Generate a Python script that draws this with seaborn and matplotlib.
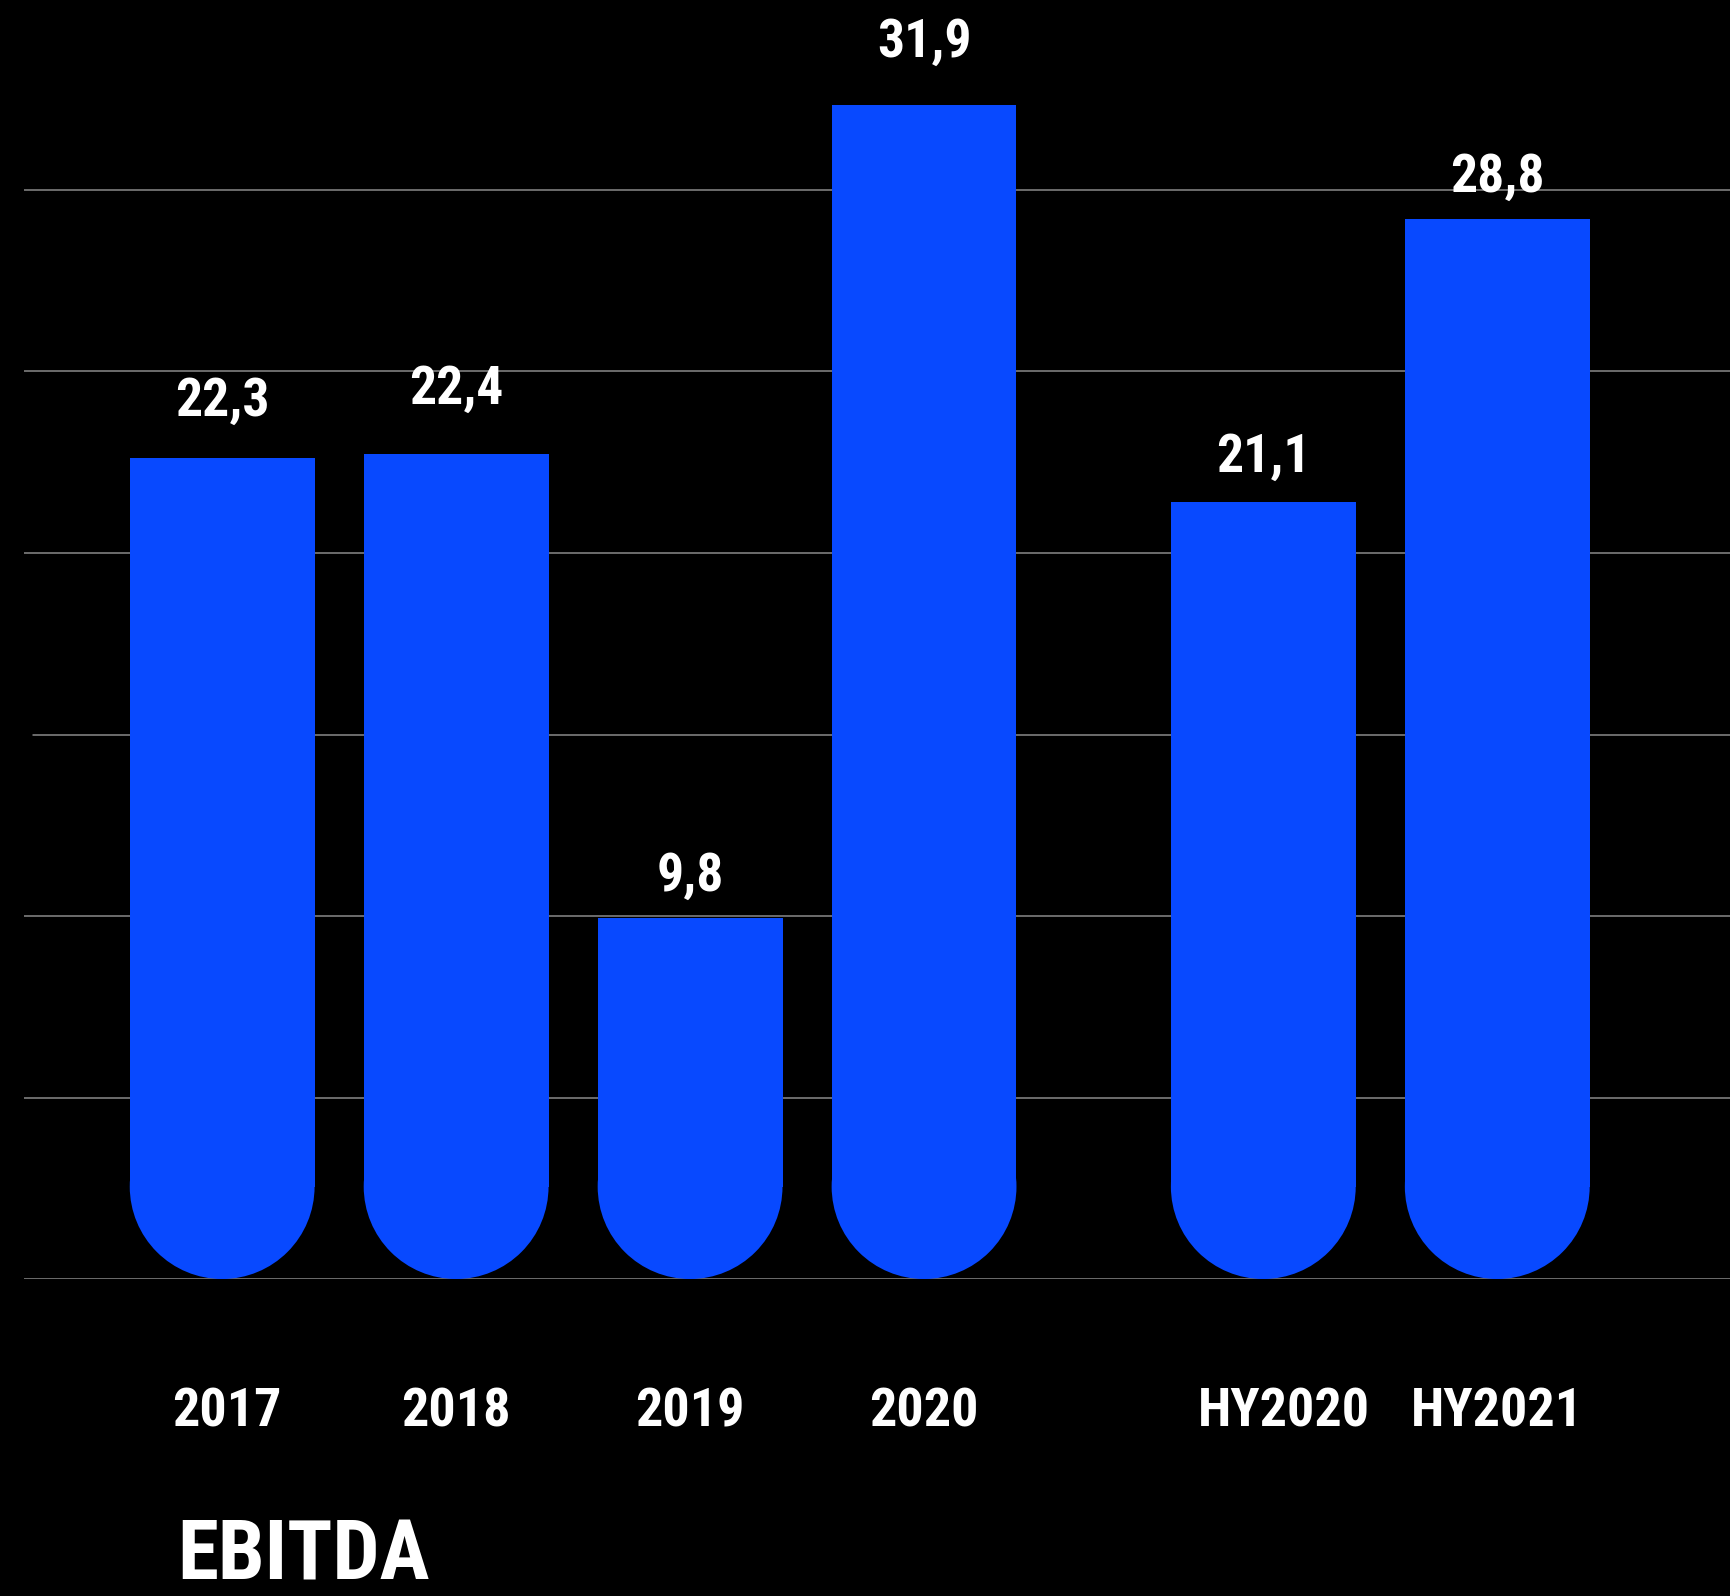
import matplotlib
matplotlib.use("Agg")
import matplotlib.pyplot as plt
import matplotlib.transforms as mtransforms
from matplotlib.patches import Ellipse
import seaborn as sns
import pandas as pd

# ---- data ----
categories = ["2017", "2018", "2019", "2020", "HY2020", "HY2021"]
values = [22.3, 22.4, 9.8, 31.9, 21.1, 28.8]
value_labels = ["22,3", "22,4", "9,8", "31,9", "21,1", "28,8"]
positions = [0, 1, 2, 3, 4.45, 5.45]
title = "EBITDA"

# ---- style ----
BLUE = "#0849FF"
sns.set_theme(style="white")
plt.rcParams["font.family"] = ["Roboto Condensed", "Liberation Sans Narrow", "Roboto", "DejaVu Sans"]
plt.rcParams["font.weight"] = "bold"

fig = plt.figure(figsize=(17.31, 15.96), dpi=100, facecolor="black")
ax = fig.add_axes([0.014, 0.1986, 0.986, 0.8014])
ax.set_facecolor("black")

df = pd.DataFrame({"pos": positions, "value": values})
bar_w = 0.79
sns.barplot(data=df, x="pos", y="value", native_scale=True, width=bar_w,
            color=BLUE, saturation=1, edgecolor="none", linewidth=0, ax=ax, zorder=3)

ax.set_xlim(-0.846, 6.449)
ax.set_ylim(0, 34.74)

# gridlines
grid_step = 4.93
for k in range(7):
    xmin = 0.005 if k == 3 else 0.0
    ax.axhline(k * grid_step, xmin=xmin, color="#8a8a8a", lw=1.1, zorder=1)

# rounded bottoms: compute radius in data units
fig.canvas.draw()
p0 = ax.transData.transform((0, 0))
p1 = ax.transData.transform((bar_w, 1))
px_per_x = (p1[0] - p0[0]) / bar_w
px_per_y = p1[1] - p0[1]
r_px = bar_w * px_per_x / 2
r_data = r_px / px_per_y

for patch, pos in zip(ax.patches, positions):
    top = patch.get_y() + patch.get_height()
    patch.set_y(r_data)
    patch.set_height(top - r_data)
    ax.add_patch(Ellipse((pos, r_data), bar_w, 2 * r_data, facecolor=BLUE,
                         edgecolor="none", lw=0, zorder=3))

# value labels
offsets_px = [42, 51, 27, 48, 30, 27]
for pos, v, lab, off in zip(positions, values, value_labels, offsets_px):
    ax.annotate(lab, (pos, v), xytext=(0, off * 0.72), textcoords="offset points",
                ha="center", va="baseline", color="white", fontsize=38.5,
                fontweight="bold", zorder=5)

# category tick labels
label_shift_px = [5, 0, 0, 0, 21, 0]
ax.set_xticks(positions)
ax.set_xticklabels(categories)
ax.tick_params(axis="x", length=0, pad=147 * 0.72, colors="white", labelsize=39)
for t, dx in zip(ax.get_xticklabels(), label_shift_px):
    t.set_va("baseline")
    t.set_fontweight("bold")
    if dx:
        t.set_transform(t.get_transform() + mtransforms.Affine2D().translate(dx, 0))
ax.set_yticks([])
ax.set_xlabel("")
ax.set_ylabel("")
for s in ax.spines.values():
    s.set_visible(False)

fig.text(177 / 1731, 1 - 1580 / 1596, title, color="white", fontsize=60,
         fontweight="bold", ha="left", va="baseline")

fig.savefig("out.png", dpi=100, facecolor="black")
